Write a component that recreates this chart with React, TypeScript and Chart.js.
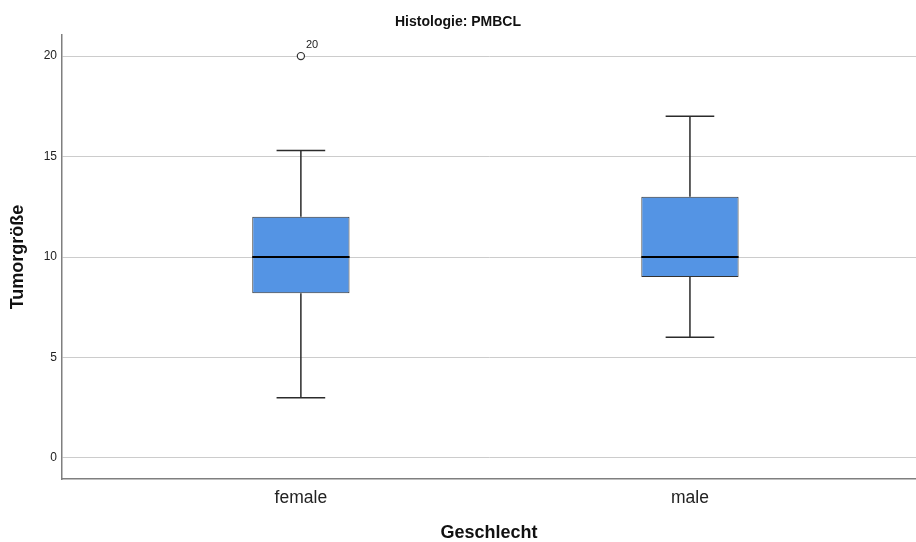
import React, { useEffect, useRef } from "react";
import { Chart, registerables } from "chart.js";

Chart.register(...registerables);

// ---- data ----
const categories = ["female", "male"];
const whiskerLow = [3, 6];
const q1 = [8.2, 9];
const median = [10, 10];
const q3 = [12, 13];
const whiskerHigh = [15.3, 17];
const outlierCategory = [0];
const outlierValues = [20];
const outlierLabels = ["20"];
const yTicks = [0, 5, 10, 15, 20];

const titleText = "Histologie: PMBCL";
const xTitle = "Geschlecht";
const yTitle = "Tumorgröße";

const FONT = "Arial, 'Liberation Sans', Helvetica, sans-serif";

const boxPlugin = {
  id: "boxParts",
  afterDatasetsDraw(chart: any) {
    const { ctx, scales } = chart;
    const x = scales.x;
    const y = scales.y;
    const meta = chart.getDatasetMeta(0);
    ctx.save();
    categories.forEach((_, i) => {
      const el = meta.data[i];
      const w = el ? el.width : 97;
      const cx = x.getPixelForValue(i);
      const capHalf = w / 4;
      const yLo = y.getPixelForValue(whiskerLow[i]);
      const yQ1 = y.getPixelForValue(q1[i]);
      const yQ3 = y.getPixelForValue(q3[i]);
      const yHi = y.getPixelForValue(whiskerHigh[i]);
      const yMed = y.getPixelForValue(median[i]);
      ctx.strokeStyle = "#2b2b2b";
      ctx.lineWidth = 1.5;
      ctx.beginPath();
      ctx.moveTo(cx, yQ3);
      ctx.lineTo(cx, yHi);
      ctx.moveTo(cx - capHalf, yHi);
      ctx.lineTo(cx + capHalf, yHi);
      ctx.moveTo(cx, yQ1);
      ctx.lineTo(cx, yLo);
      ctx.moveTo(cx - capHalf, yLo);
      ctx.lineTo(cx + capHalf, yLo);
      ctx.stroke();
      ctx.strokeStyle = "#000000";
      ctx.lineWidth = 2.2;
      ctx.beginPath();
      ctx.moveTo(cx - w / 2, yMed);
      ctx.lineTo(cx + w / 2, yMed);
      ctx.stroke();
    });
    // outlier labels
    ctx.fillStyle = "#222";
    ctx.font = `11px ${FONT}`;
    ctx.textAlign = "left";
    ctx.textBaseline = "middle";
    outlierValues.forEach((v, k) => {
      const px = x.getPixelForValue(outlierCategory[k]);
      const py = y.getPixelForValue(v);
      ctx.fillText(outlierLabels[k], px + 5, py - 11);
    });
    ctx.restore();
  },
};

export default function App() {
  const ref = useRef<HTMLCanvasElement | null>(null);
  useEffect(() => {
    if (!ref.current) return;
    const chart = new Chart(ref.current, {
      type: "bar",
      data: {
        datasets: [
          {
            type: "bar",
            data: categories.map((_, i) => ({ x: i, y: [q1[i], q3[i]] })) as any,
            backgroundColor: "#5494e4",
            borderColor: "#333333",
            borderWidth: 1,
            borderSkipped: false,
            categoryPercentage: 1,
            barPercentage: 0.25,
          } as any,
          {
            type: "scatter",
            data: outlierValues.map((v, k) => ({ x: outlierCategory[k], y: v })),
            pointRadius: 3.6,
            pointBackgroundColor: "#ffffff",
            pointBorderColor: "#333333",
            pointBorderWidth: 1.2,
          } as any,
        ],
      },
      options: {
        animation: false,
        responsive: false,
        layout: { padding: 0, autoPadding: false },
        plugins: {
          legend: { display: false },
          tooltip: { enabled: false },
          title: {
            display: true,
            text: titleText,
            color: "#111",
            font: { family: FONT, size: 14, weight: "bold", lineHeight: 1.2 },
            padding: { top: 13.5, bottom: 4.7 },
          },
        },
        scales: {
          x: {
            type: "linear",
            min: -0.614,
            max: 1.581,
            offset: false,
            afterFit: (s: any) => {
              s.height = 63;
              s.paddingLeft = 0;
              s.paddingRight = 0;
            },
            afterBuildTicks: (s: any) => {
              s.ticks = categories.map((_, i) => ({ value: i }));
            },
            ticks: {
              callback: (v: any) => categories[v as number] ?? "",
              font: { family: FONT, size: 17.5 },
              color: "#222",
              padding: 9,
              autoSkip: false,
              maxRotation: 0,
            },
            grid: { display: false, drawTicks: false },
            border: { display: true, color: "#7f7f7f", width: 1.5 },
            title: {
              display: true,
              text: xTitle,
              color: "#111",
              font: { family: FONT, size: 18, weight: "bold", lineHeight: 1 },
              padding: { top: 0, bottom: 0 },
            },
          },
          y: {
            type: "linear",
            min: -1.05,
            max: 21.05,
            afterFit: (s: any) => {
              s.width = 62;
              s.paddingTop = 0;
              s.paddingBottom = 0;
            },
            afterBuildTicks: (s: any) => {
              s.ticks = yTicks.map((v) => ({ value: v }));
            },
            ticks: {
              font: { family: FONT, size: 12 },
              color: "#222",
              padding: 5,
              includeBounds: false,
            },
            grid: { color: "#cccccc", lineWidth: 1, drawTicks: false },
            border: { display: true, color: "#7f7f7f", width: 1.5 },
            title: {
              display: true,
              text: yTitle,
              color: "#111",
              font: { family: FONT, size: 18, weight: "bold", lineHeight: 1 },
              padding: { top: 9, bottom: 0 },
            },
          },
        },
      } as any,
      plugins: [boxPlugin],
    });
    return () => chart.destroy();
  }, []);
  return (
    <div style={{ position: "absolute", left: 0, top: 0, width: 916, height: 542 }}>
      <canvas ref={ref} width={916} height={542} />
    </div>
  );
}
